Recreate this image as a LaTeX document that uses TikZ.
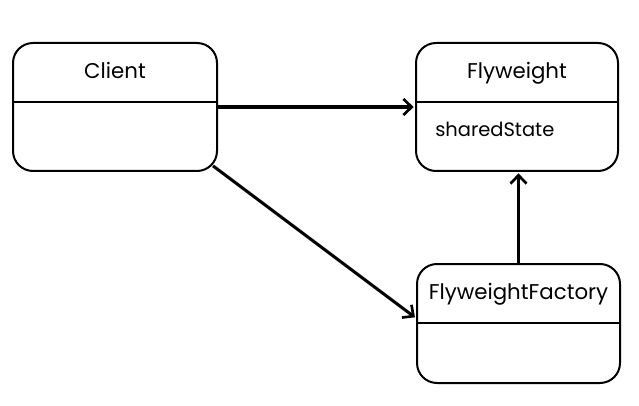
\documentclass[tikz,border=0pt]{standalone}
\usepackage{fontspec}
\setmainfont{Poppins}
\usetikzlibrary{calc,arrows.meta}
\tikzset{
  cls/.style={draw,line width=1.5pt,rounded corners=15pt,minimum width=#1,minimum height=96pt,inner sep=0pt},
  ttl/.style={font=\fontsize{16}{19}\selectfont,inner sep=0pt,anchor=base},
  attr/.style={font=\fontsize{14.6}{17}\selectfont,inner sep=0pt,anchor=base west},
  flow/.style={-{Straight Barb[length=2.2mm,width=4.2mm,line width=2pt]},line width=2.3pt,shorten >=1pt},
}
\begin{document}
\begin{tikzpicture}[x=0.75pt,y=-0.75pt]
\useasboundingbox (0,0) rectangle (639,406);
% classes
\node[cls=153pt] (client) at (115,107) {};
\node[cls=151.5pt] (fly) at (517,107) {};
\node[cls=152.25pt,minimum height=89.25pt] (factory) at (518.5,323.5) {};
\draw[line width=1.5pt] ($(client.north west)+(0,60)$) -- ($(client.north east)+(0,60)$);
\draw[line width=1.5pt] ($(fly.north west)+(0,60)$) -- ($(fly.north east)+(0,60)$);
\draw[line width=1.5pt] ($(factory.north west)+(0,60)$) -- ($(factory.north east)+(0,60)$);
\node[ttl] (clientname) at ($(client.north)+(0,37)$) {Client};
\node[ttl] (flyname) at ($(fly.north)+(0,37)$) {Flyweight};
\node[ttl] (factoryname) at ($(factory.north)+(0,36)$) {FlyweightFactory};
\node[attr] (shared) at ($(fly.north west)+(20,95)$) {sharedState};
% relations
\draw[flow] (client.east) -- (fly.west);
\draw[flow] ([shift={(-5,-3)}]client.-31) -- (factory.177);
\draw[flow] (factory.north) -- (factory.north |- fly.south);
\end{tikzpicture}
\end{document}
